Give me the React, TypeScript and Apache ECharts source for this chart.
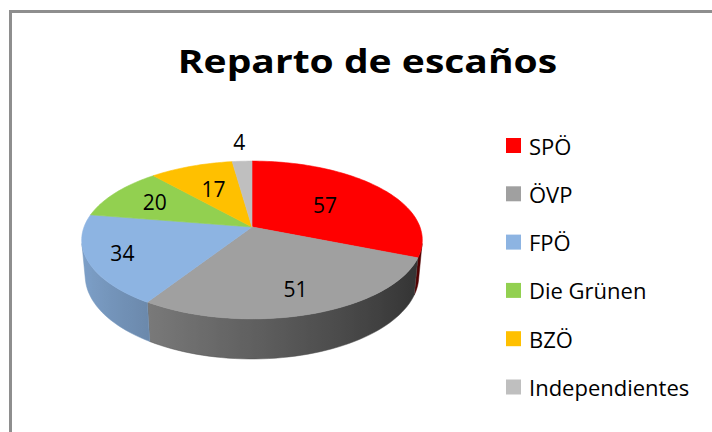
import React, { useEffect, useRef } from "react";
import * as echarts from "echarts";

// ---- data ----
const TITLE = "Reparto de escaños";
const PARTIES = ["SPÖ", "ÖVP", "FPÖ", "Die Grünen", "BZÖ", "Independientes"];
const SEATS = [57, 51, 34, 20, 17, 4];

// ---- style / layout ----
const COLORS = ["#FF0000", "#A0A0A0", "#8DB4E2", "#92D050", "#FFC000", "#BFBFBF"];
const LABEL_R = [0.55, 0.75, 0.8, 0.7, 0.6, 1.35];
const FONT = "'Open Sans', 'Liberation Sans', sans-serif";

// perspective camera for the 3D pie
const CAM = { cx: 252, cy: 227, k: 907, D: 5.4, s: 0.457, c: 0.889, h: 0.2424 };

function proj(u: number, v: number, w: number): [number, number] {
  const yc = v * CAM.s + w * CAM.c;
  const z = CAM.D + v * CAM.c - w * CAM.s;
  return [CAM.cx + (CAM.k * u) / z, CAM.cy - (CAM.k * yc) / z];
}
function rim(deg: number, w: number, r = 1): [number, number] {
  const t = (deg * Math.PI) / 180;
  return proj(r * Math.sin(t), r * Math.cos(t), w);
}
function shade(hex: string, f: number): string {
  const n = parseInt(hex.slice(1), 16);
  const r = Math.round(((n >> 16) & 255) * f);
  const g = Math.round(((n >> 8) & 255) * f);
  const b = Math.round((n & 255) * f);
  return `rgb(${r},${g},${b})`;
}
function sideFactor(deg: number): number {
  return 0.6 - 0.3 * Math.sin((deg * Math.PI) / 180);
}

const TOTAL = SEATS.reduce((a, b) => a + b, 0);
const STARTS: number[] = [];
SEATS.reduce((acc, v) => {
  STARTS.push(acc);
  return acc + v;
}, 0);

const VIS = (Math.acos(-1 / (CAM.D * CAM.c)) * 180) / Math.PI; // visible side from VIS to 360-VIS

function renderItem(params: any, api: any) {
  const i = params.dataIndex;
  const val = api.value(0);
  const a0 = (STARTS[i] / TOTAL) * 360;
  const a1 = ((STARTS[i] + val) / TOTAL) * 360;
  const color = COLORS[i];
  const children: any[] = [];

  // side face
  const s0 = Math.max(a0, VIS);
  const s1 = Math.min(a1, 360 - VIS);
  if (s1 > s0) {
    const n = Math.max(4, Math.ceil((s1 - s0) / 2));
    const top: [number, number][] = [];
    const bot: [number, number][] = [];
    for (let j = 0; j <= n; j++) {
      const d = s0 + ((s1 - s0) * j) / n;
      top.push(rim(d, 0));
      bot.push(rim(d, -CAM.h));
    }
    const pts = top.concat(bot.slice().reverse());
    const xs = pts.map((p) => p[0]);
    const xmin = Math.min(...xs);
    const xmax = Math.max(...xs);
    const stops: any[] = [];
    for (let j = 0; j <= n; j++) {
      const d = s0 + ((s1 - s0) * j) / n;
      const off = xmax > xmin ? (top[j][0] - xmin) / (xmax - xmin) : 0;
      stops.push({ offset: Math.min(1, Math.max(0, off)), color: shade(color, sideFactor(d)) });
    }
    stops.sort((p, q) => p.offset - q.offset);
    const fill = new echarts.graphic.LinearGradient(0, 0, 1, 0, stops);
    children.push({
      type: "polygon",
      shape: { points: pts },
      style: { fill, stroke: shade(color, sideFactor((s0 + s1) / 2)), lineWidth: 0.5 },
    });
  }

  // top face
  const n2 = Math.max(4, Math.ceil((a1 - a0) / 1.5));
  const tp: [number, number][] = [proj(0, 0, 0)];
  for (let j = 0; j <= n2; j++) tp.push(rim(a0 + ((a1 - a0) * j) / n2, 0));
  children.push({
    type: "polygon",
    shape: { points: tp },
    style: { fill: color, stroke: color, lineWidth: 0.6 },
  });

  // label
  const lp = rim((a0 + a1) / 2, 0, LABEL_R[i]);
  children.push({
    type: "text",
    x: lp[0],
    y: lp[1],
    style: {
      text: String(val),
      fill: "#000000",
      fontSize: 21,
      fontFamily: FONT,
      align: "center",
      verticalAlign: "middle",
    },
  });
  return { type: "group", children };
}

export default function App() {
  const ref = useRef<HTMLDivElement>(null);
  useEffect(() => {
    if (!ref.current) return;
    const chart = echarts.init(ref.current, undefined, { renderer: "svg" });
    const legendEls: any[] = [];
    PARTIES.forEach((p, i) => {
      const cy = 145.5 + i * 48.3;
      legendEls.push({
        type: "rect",
        shape: { x: 506, y: cy - 7.5, width: 15, height: 15 },
        style: { fill: COLORS[i] },
      });
      legendEls.push({
        type: "text",
        x: 529,
        y: cy,
        style: {
          text: p,
          fill: "#000000",
          fontSize: 22,
          fontFamily: FONT,
          align: "left",
          verticalAlign: "middle",
        },
      });
    });
    chart.setOption({
      animation: false,
      backgroundColor: "#ffffff",
      graphic: [
        {
          type: "rect",
          shape: { x: 10.5, y: 11.5, width: 760, height: 480 },
          style: { fill: "none", stroke: "#8e8e8e", lineWidth: 3 },
        },
        {
          type: "text",
          x: 367.5,
          y: 60,
          scaleX: 1.22,
          style: {
            text: TITLE,
            fill: "#000000",
            fontSize: 32,
            fontWeight: "bold",
            fontFamily: FONT,
            align: "center",
            verticalAlign: "middle",
          },
        },
        ...legendEls,
      ],
      series: [
        {
          type: "custom",
          coordinateSystem: "none",
          silent: true,
          data: SEATS.map((v, i) => ({ value: [v], name: PARTIES[i] })),
          renderItem,
        },
      ],
    });
    return () => chart.dispose();
  }, []);
  return (
    <div
      ref={ref}
      style={{ position: "fixed", left: 0, top: 0, width: 712, height: 432, background: "#fff" }}
    />
  );
}
